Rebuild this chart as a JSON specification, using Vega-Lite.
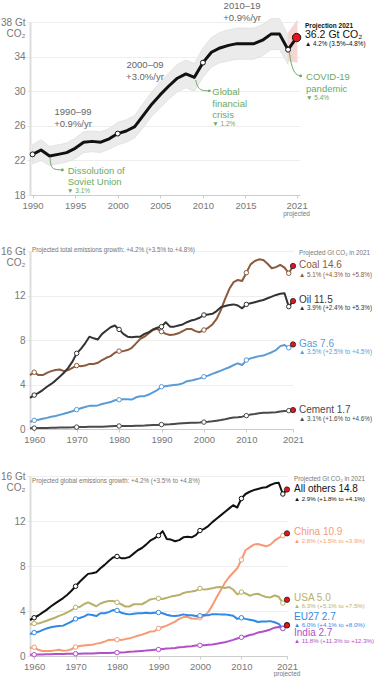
{
"$schema":"https://vega.github.io/schema/vega-lite/v6.json",
"padding":{"left":0,"top":0,"right":0,"bottom":0},
"config":{"font":"Liberation Sans","view":{"stroke":null},
"axis":{"labelColor":"#777777","labelFont":"Liberation Sans","gridColor":"#eeeeee","tickColor":"#dddddd","domainColor":"#dddddd","labelOverlap":false,"labelFlush":false},
"axisX":{"labelFontSize":9.5,"tickSize":3,"labelPadding":2,"grid":false,"domainColor":"#cccccc","tickColor":"#cccccc"},
"axisY":{"labelFontSize":10,"tickSize":3,"labelPadding":2,"domainWidth":2,"grid":true,"tickColor":"#e6e6e6"}},
"datasets":{
"global":[
{"year":1990,"v":22.7,"lo":21.6,"hi":23.8},{"year":1991,"v":23.2,"lo":22.0,"hi":24.4},{"year":1992,"v":22.5,"lo":21.4,"hi":23.6},{"year":1993,"v":22.7,"lo":21.6,"hi":23.8},{"year":1994,"v":22.9,"lo":21.8,"hi":24.0},{"year":1995,"v":23.4,"lo":22.2,"hi":24.6},{"year":1996,"v":24.1,"lo":22.9,"hi":25.3},{"year":1997,"v":24.2,"lo":23.0,"hi":25.4},{"year":1998,"v":24.1,"lo":22.9,"hi":25.3},{"year":1999,"v":24.5,"lo":23.3,"hi":25.7},{"year":2000,"v":25.1,"lo":23.8,"hi":26.4},{"year":2001,"v":25.4,"lo":24.1,"hi":26.7},{"year":2002,"v":25.9,"lo":24.6,"hi":27.2},{"year":2003,"v":27.2,"lo":25.8,"hi":28.6},{"year":2004,"v":28.5,"lo":27.1,"hi":29.9},{"year":2005,"v":29.6,"lo":28.1,"hi":31.1},{"year":2006,"v":30.6,"lo":29.1,"hi":32.1},{"year":2007,"v":31.5,"lo":29.9,"hi":33.1},{"year":2008,"v":32.0,"lo":30.4,"hi":33.6},{"year":2009,"v":31.6,"lo":30.0,"hi":33.2},{"year":2010,"v":33.3,"lo":31.6,"hi":35.0},{"year":2011,"v":34.5,"lo":32.8,"hi":36.2},{"year":2012,"v":35.0,"lo":33.3,"hi":36.8},{"year":2013,"v":35.3,"lo":33.5,"hi":37.1},{"year":2014,"v":35.5,"lo":33.7,"hi":37.3},{"year":2015,"v":35.5,"lo":33.7,"hi":37.3},{"year":2016,"v":35.5,"lo":33.7,"hi":37.3},{"year":2017,"v":35.9,"lo":34.1,"hi":37.7},{"year":2018,"v":36.6,"lo":34.8,"hi":38.4},{"year":2019,"v":36.6,"lo":34.8,"hi":38.4},{"year":2020,"v":34.8,"lo":33.1,"hi":36.5},{"year":2021,"v":36.2}],
"fuel":[
{"year":1959,"Coal":4.85,"Oil":2.8,"Gas":0.65,"Cement":0.07},{"year":1960,"Coal":5.1,"Oil":3.05,"Gas":0.78,"Cement":0.08},{"year":1961,"Coal":4.85,"Oil":3.25,"Gas":0.84,"Cement":0.08},{"year":1962,"Coal":4.85,"Oil":3.5,"Gas":0.92,"Cement":0.09},{"year":1963,"Coal":5.05,"Oil":3.8,"Gas":1.0,"Cement":0.1},{"year":1964,"Coal":5.2,"Oil":4.05,"Gas":1.1,"Cement":0.11},{"year":1965,"Coal":5.3,"Oil":4.35,"Gas":1.17,"Cement":0.12},{"year":1966,"Coal":5.35,"Oil":4.7,"Gas":1.27,"Cement":0.13},{"year":1967,"Coal":5.2,"Oil":5.05,"Gas":1.37,"Cement":0.13},{"year":1968,"Coal":5.3,"Oil":5.5,"Gas":1.48,"Cement":0.14},{"year":1969,"Coal":5.5,"Oil":6.05,"Gas":1.6,"Cement":0.15},
{"year":1970,"Coal":5.7,"Oil":6.8,"Gas":1.74,"Cement":0.17},{"year":1971,"Coal":5.65,"Oil":7.2,"Gas":1.87,"Cement":0.18},{"year":1972,"Coal":5.7,"Oil":7.7,"Gas":1.98,"Cement":0.19},{"year":1973,"Coal":5.85,"Oil":8.3,"Gas":2.08,"Cement":0.2},{"year":1974,"Coal":5.85,"Oil":8.15,"Gas":2.1,"Cement":0.2},{"year":1975,"Coal":5.95,"Oil":8.05,"Gas":2.12,"Cement":0.2},{"year":1976,"Coal":6.2,"Oil":8.55,"Gas":2.25,"Cement":0.21},{"year":1977,"Coal":6.4,"Oil":8.85,"Gas":2.33,"Cement":0.23},{"year":1978,"Coal":6.55,"Oil":9.15,"Gas":2.42,"Cement":0.25},{"year":1979,"Coal":6.85,"Oil":9.3,"Gas":2.58,"Cement":0.26},
{"year":1980,"Coal":7.0,"Oil":8.95,"Gas":2.63,"Cement":0.27},{"year":1981,"Coal":7.0,"Oil":8.55,"Gas":2.67,"Cement":0.27},{"year":1982,"Coal":7.1,"Oil":8.3,"Gas":2.67,"Cement":0.27},{"year":1983,"Coal":7.3,"Oil":8.25,"Gas":2.65,"Cement":0.28},{"year":1984,"Coal":7.7,"Oil":8.3,"Gas":2.85,"Cement":0.29},{"year":1985,"Coal":8.1,"Oil":8.3,"Gas":2.95,"Cement":0.3},{"year":1986,"Coal":8.3,"Oil":8.55,"Gas":2.95,"Cement":0.31},{"year":1987,"Coal":8.6,"Oil":8.7,"Gas":3.1,"Cement":0.33},{"year":1988,"Coal":8.9,"Oil":8.95,"Gas":3.3,"Cement":0.35},{"year":1989,"Coal":9.0,"Oil":9.1,"Gas":3.5,"Cement":0.36},
{"year":1990,"Coal":8.75,"Oil":9.2,"Gas":3.8,"Cement":0.4},{"year":1991,"Coal":8.55,"Oil":9.6,"Gas":3.85,"Cement":0.41},{"year":1992,"Coal":8.45,"Oil":9.2,"Gas":3.9,"Cement":0.43},{"year":1993,"Coal":8.5,"Oil":9.2,"Gas":3.95,"Cement":0.46},{"year":1994,"Coal":8.6,"Oil":9.3,"Gas":4.0,"Cement":0.49},{"year":1995,"Coal":8.8,"Oil":9.4,"Gas":4.1,"Cement":0.52},{"year":1996,"Coal":9.0,"Oil":9.6,"Gas":4.3,"Cement":0.54},{"year":1997,"Coal":9.0,"Oil":9.75,"Gas":4.35,"Cement":0.56},{"year":1998,"Coal":8.8,"Oil":9.85,"Gas":4.45,"Cement":0.57},{"year":1999,"Coal":8.7,"Oil":10.0,"Gas":4.55,"Cement":0.59},
{"year":2000,"Coal":8.9,"Oil":10.25,"Gas":4.7,"Cement":0.62},{"year":2001,"Coal":9.1,"Oil":10.3,"Gas":4.8,"Cement":0.65},{"year":2002,"Coal":9.4,"Oil":10.35,"Gas":4.95,"Cement":0.69},{"year":2003,"Coal":9.9,"Oil":10.6,"Gas":5.1,"Cement":0.75},{"year":2004,"Coal":10.7,"Oil":10.95,"Gas":5.25,"Cement":0.81},{"year":2005,"Coal":11.7,"Oil":11.05,"Gas":5.4,"Cement":0.88},{"year":2006,"Coal":12.6,"Oil":11.15,"Gas":5.55,"Cement":0.96},{"year":2007,"Coal":13.2,"Oil":11.2,"Gas":5.75,"Cement":1.03},{"year":2008,"Coal":13.4,"Oil":11.1,"Gas":5.9,"Cement":1.06},{"year":2009,"Coal":13.3,"Oil":10.85,"Gas":5.75,"Cement":1.11},
{"year":2010,"Coal":14.05,"Oil":11.2,"Gas":6.2,"Cement":1.2},{"year":2011,"Coal":14.8,"Oil":11.3,"Gas":6.35,"Cement":1.3},{"year":2012,"Coal":15.1,"Oil":11.4,"Gas":6.45,"Cement":1.35},{"year":2013,"Coal":15.25,"Oil":11.5,"Gas":6.55,"Cement":1.42},{"year":2014,"Coal":15.2,"Oil":11.6,"Gas":6.6,"Cement":1.46},{"year":2015,"Coal":14.85,"Oil":11.75,"Gas":6.75,"Cement":1.46},{"year":2016,"Coal":14.45,"Oil":11.9,"Gas":6.9,"Cement":1.49},{"year":2017,"Coal":14.55,"Oil":12.05,"Gas":7.1,"Cement":1.5},{"year":2018,"Coal":14.75,"Oil":12.15,"Gas":7.45,"Cement":1.57},{"year":2019,"Coal":14.5,"Oil":12.2,"Gas":7.55,"Cement":1.62},{"year":2020,"Coal":14.0,"Oil":11.0,"Gas":7.3,"Cement":1.65},{"year":2021,"Coal":14.65,"Oil":11.5,"Gas":7.6,"Cement":1.7}],
"country":[
{"year":1959,"Others":3.2,"China":0.7,"USA":2.8,"EU27":1.95,"India":0.11},{"year":1960,"Others":3.4,"China":0.78,"USA":2.89,"EU27":2.08,"India":0.12},{"year":1961,"Others":3.6,"China":0.55,"USA":2.88,"EU27":2.15,"India":0.13},{"year":1962,"Others":3.85,"China":0.45,"USA":3.0,"EU27":2.3,"India":0.14},{"year":1963,"Others":4.1,"China":0.44,"USA":3.13,"EU27":2.45,"India":0.15},{"year":1964,"Others":4.4,"China":0.45,"USA":3.27,"EU27":2.55,"India":0.15},{"year":1965,"Others":4.65,"China":0.5,"USA":3.4,"EU27":2.62,"India":0.17},{"year":1966,"Others":4.9,"China":0.55,"USA":3.57,"EU27":2.66,"India":0.17},{"year":1967,"Others":5.15,"China":0.47,"USA":3.7,"EU27":2.7,"India":0.18},{"year":1968,"Others":5.45,"China":0.5,"USA":3.87,"EU27":2.87,"India":0.19},{"year":1969,"Others":5.8,"China":0.6,"USA":4.07,"EU27":3.05,"India":0.19},
{"year":1970,"Others":6.2,"China":0.8,"USA":4.33,"EU27":3.3,"India":0.2},{"year":1971,"Others":6.6,"China":0.88,"USA":4.36,"EU27":3.38,"India":0.21},{"year":1972,"Others":6.95,"China":0.93,"USA":4.6,"EU27":3.5,"India":0.22},{"year":1973,"Others":7.3,"China":0.97,"USA":4.77,"EU27":3.7,"India":0.22},{"year":1974,"Others":7.35,"China":0.99,"USA":4.6,"EU27":3.65,"India":0.23},{"year":1975,"Others":7.45,"China":1.1,"USA":4.42,"EU27":3.55,"India":0.25},{"year":1976,"Others":7.8,"China":1.15,"USA":4.67,"EU27":3.8,"India":0.26},{"year":1977,"Others":8.1,"China":1.28,"USA":4.8,"EU27":3.8,"India":0.27},{"year":1978,"Others":8.45,"China":1.43,"USA":4.88,"EU27":3.9,"India":0.27},{"year":1979,"Others":8.75,"China":1.45,"USA":4.9,"EU27":4.08,"India":0.29},
{"year":1980,"Others":8.85,"China":1.45,"USA":4.77,"EU27":4.05,"India":0.3},{"year":1981,"Others":8.7,"China":1.43,"USA":4.6,"EU27":3.85,"India":0.32},{"year":1982,"Others":8.7,"China":1.5,"USA":4.4,"EU27":3.75,"India":0.34},{"year":1983,"Others":8.8,"China":1.57,"USA":4.4,"EU27":3.7,"India":0.37},{"year":1984,"Others":9.1,"China":1.68,"USA":4.6,"EU27":3.75,"India":0.39},{"year":1985,"Others":9.4,"China":1.8,"USA":4.6,"EU27":3.8,"India":0.42},{"year":1986,"Others":9.6,"China":1.9,"USA":4.6,"EU27":3.8,"India":0.45},{"year":1987,"Others":9.9,"China":2.02,"USA":4.8,"EU27":3.85,"India":0.48},{"year":1988,"Others":10.25,"China":2.17,"USA":5.03,"EU27":3.8,"India":0.52},{"year":1989,"Others":10.45,"China":2.2,"USA":5.1,"EU27":3.85,"India":0.56},
{"year":1990,"Others":10.7,"China":2.45,"USA":5.12,"EU27":3.87,"India":0.58},{"year":1991,"Others":11.1,"China":2.58,"USA":5.07,"EU27":3.8,"India":0.62},{"year":1992,"Others":10.4,"China":2.7,"USA":5.17,"EU27":3.67,"India":0.66},{"year":1993,"Others":10.35,"China":2.88,"USA":5.28,"EU27":3.58,"India":0.68},{"year":1994,"Others":10.2,"China":3.06,"USA":5.36,"EU27":3.56,"India":0.72},{"year":1995,"Others":10.3,"China":3.3,"USA":5.42,"EU27":3.6,"India":0.78},{"year":1996,"Others":10.55,"China":3.46,"USA":5.6,"EU27":3.7,"India":0.8},{"year":1997,"Others":10.6,"China":3.47,"USA":5.68,"EU27":3.62,"India":0.84},{"year":1998,"Others":10.55,"China":3.33,"USA":5.73,"EU27":3.63,"India":0.86},{"year":1999,"Others":10.75,"China":3.32,"USA":5.8,"EU27":3.56,"India":0.93},
{"year":2000,"Others":11.15,"China":3.4,"USA":6.01,"EU27":3.58,"India":0.95},{"year":2001,"Others":11.3,"China":3.55,"USA":5.9,"EU27":3.65,"India":0.96},{"year":2002,"Others":11.55,"China":3.9,"USA":5.95,"EU27":3.63,"India":0.99},{"year":2003,"Others":11.9,"China":4.5,"USA":6.02,"EU27":3.72,"India":1.02},{"year":2004,"Others":12.2,"China":5.2,"USA":6.11,"EU27":3.72,"India":1.08},{"year":2005,"Others":12.5,"China":5.85,"USA":6.13,"EU27":3.7,"India":1.15},{"year":2006,"Others":12.8,"China":6.5,"USA":6.05,"EU27":3.7,"India":1.22},{"year":2007,"Others":13.1,"China":7.0,"USA":6.13,"EU27":3.65,"India":1.32},{"year":2008,"Others":13.4,"China":7.4,"USA":5.91,"EU27":3.58,"India":1.43},{"year":2009,"Others":13.2,"China":7.8,"USA":5.48,"EU27":3.3,"India":1.56},
{"year":2010,"Others":14.0,"China":8.55,"USA":5.68,"EU27":3.4,"India":1.66},{"year":2011,"Others":14.4,"China":9.4,"USA":5.56,"EU27":3.3,"India":1.74},{"year":2012,"Others":14.6,"China":9.65,"USA":5.36,"EU27":3.23,"India":1.86},{"year":2013,"Others":14.75,"China":9.9,"USA":5.48,"EU27":3.15,"India":1.94},{"year":2014,"Others":14.85,"China":9.95,"USA":5.53,"EU27":3.02,"India":2.08},{"year":2015,"Others":14.95,"China":9.85,"USA":5.37,"EU27":3.06,"India":2.16},{"year":2016,"Others":15.0,"China":9.75,"USA":5.25,"EU27":3.07,"India":2.25},{"year":2017,"Others":15.2,"China":9.9,"USA":5.21,"EU27":3.1,"India":2.36},{"year":2018,"Others":15.35,"China":10.25,"USA":5.38,"EU27":3.0,"India":2.52},{"year":2019,"Others":15.4,"China":10.5,"USA":5.26,"EU27":2.85,"India":2.58},{"year":2020,"Others":14.4,"China":10.7,"USA":4.71,"EU27":2.46,"India":2.44},{"year":2021,"Others":14.8,"China":10.9,"USA":5.0,"EU27":2.75,"India":2.72}]
},
"spacing":56,
"bounds":"flush",
"resolve":{"scale":{"color":"independent","stroke":"independent"}},
"vconcat":[
{
"width":270,"height":173,
"layer":[
{"data":{"name":"global"},"mark":{"type":"area","fill":"#ebebeb","stroke":"#dddddd","strokeWidth":0.7},
"encoding":{
"x":{"field":"year","type":"quantitative","scale":{"domain":[1989.7,2021.4],"nice":false,"zero":false},"axis":{"values":[1990,1995,2000,2005,2010,2015,2021],"tickCount":12,"format":"d","title":null,"labelOverlap":false}},
"y":{"field":"lo","type":"quantitative","scale":{"domain":[18,38],"nice":false,"zero":false},"axis":{"values":[18,22,26,30,34,38],"tickCount":12,"title":null,"labelOverlap":false,"labelExpr":"datum.value == 38 ? ['38 Gt', 'CO₂'] : datum.label","labelLineHeight":11}},
"y2":{"field":"hi"}}},
{"data":{"values":[{"year":2020,"lo":33.5,"hi":36.8},{"year":2021.1,"lo":33.3,"hi":38.3}]},"mark":{"type":"area","fill":"#f5cfcb","opacity":0.85},
"encoding":{"x":{"field":"year","type":"quantitative"},"y":{"field":"lo","type":"quantitative"},"y2":{"field":"hi"}}},
{"data":{"name":"global"},"mark":{"type":"line","color":"#111111","strokeWidth":3,"strokeJoin":"round"},
"encoding":{"x":{"field":"year","type":"quantitative"},"y":{"field":"v","type":"quantitative"}}},
{"data":{"values":[{"g":"a","o":0,"x":1992.05,"y":22.3},{"g":"a","o":1,"x":1992.15,"y":21.3},{"g":"a","o":2,"x":1992.5,"y":20.95},{"g":"a","o":3,"x":1993.5,"y":20.89},
{"g":"b","o":0,"x":2009.15,"y":31.3},{"g":"b","o":1,"x":2009.4,"y":30.35},{"g":"b","o":2,"x":2010.0,"y":30.04},{"g":"b","o":3,"x":2010.75,"y":30.04},
{"g":"c","o":0,"x":2020.15,"y":34.5},{"g":"c","o":1,"x":2020.43,"y":32.73},{"g":"c","o":2,"x":2020.93,"y":31.88},{"g":"c","o":3,"x":2021.48,"y":31.77}]},
"layer":[
{"mark":{"type":"line","color":"#6aaa64","strokeWidth":1,"interpolate":"basis"},"encoding":{"x":{"field":"x","type":"quantitative"},"y":{"field":"y","type":"quantitative"},"detail":{"field":"g"},"order":{"field":"o"}}},
{"transform":[{"filter":"datum.o == 3"}],"mark":{"type":"circle","color":"#6aaa64","size":8,"opacity":1},"encoding":{"x":{"field":"x","type":"quantitative"},"y":{"field":"y","type":"quantitative"}}}]},
{"data":{"name":"global"},"transform":[{"filter":"datum.year % 10 == 0"}],"mark":{"type":"circle","size":24,"fill":"white","stroke":"#111111","strokeWidth":1,"opacity":1},
"encoding":{"x":{"field":"year","type":"quantitative"},"y":{"field":"v","type":"quantitative"}}},
{"data":{"name":"global"},"transform":[{"filter":"datum.year == 2021"}],"mark":{"type":"circle","size":70,"fill":"#e8141b","stroke":"#111111","strokeWidth":1,"opacity":1},
"encoding":{"x":{"field":"year","type":"quantitative"},"y":{"field":"v","type":"quantitative"}}},
{"data":{"values":[{"x":1994.75,"y":27.61,"t":"1990–99\n+0.9%/yr"},{"x":2003.2,"y":33.04,"t":"2000–09\n+3.0%/yr"},{"x":2014.6,"y":39.9,"t":"2010–19\n+0.9%/yr"}]},
"mark":{"type":"text","align":"center","baseline":"middle","fontSize":9.5,"color":"#666666","lineBreak":"\n","lineHeight":12.5},
"encoding":{"x":{"field":"x","type":"quantitative"},"y":{"field":"y","type":"quantitative"},"text":{"field":"t"}}},
{"data":{"values":[{"x":1994.13,"y":20.8,"t":"Dissolution of\nSoviet Union"},{"x":2011.1,"y":29.92,"t":"Global\nfinancial\ncrisis"},{"x":2022.11,"y":31.65,"t":"COVID-19\npandemic"}]},
"mark":{"type":"text","align":"left","baseline":"middle","fontSize":9.5,"color":"#6aaa64","lineBreak":"\n","lineHeight":11.7},
"encoding":{"x":{"field":"x","type":"quantitative"},"y":{"field":"y","type":"quantitative"},"text":{"field":"t"}}},
{"data":{"values":[{"x":1994.05,"y":18.44,"t":"▼ 3.1%"},{"x":2011.1,"y":26.26,"t":"▼ 1.2%"},{"x":2022.11,"y":29.26,"t":"▼ 5.4%"}]},
"mark":{"type":"text","align":"left","baseline":"middle","fontSize":6.5,"color":"#6aaa64"},
"encoding":{"x":{"field":"x","type":"quantitative"},"y":{"field":"y","type":"quantitative"},"text":{"field":"t"}}},
{"data":{"values":[{"x":2021.99,"y":37.54,"t":"Projection 2021"}]},
"mark":{"type":"text","align":"left","baseline":"middle","fontSize":6.5,"fontWeight":"bold","color":"#111111"},
"encoding":{"x":{"field":"x","type":"quantitative"},"y":{"field":"y","type":"quantitative"},"text":{"field":"t"}}},
{"data":{"values":[{"x":2021.99,"y":36.45,"t":"36.2 Gt CO₂"}]},
"mark":{"type":"text","align":"left","baseline":"middle","fontSize":10.5,"color":"#111111"},
"encoding":{"x":{"field":"x","type":"quantitative"},"y":{"field":"y","type":"quantitative"},"text":{"field":"t"}}},
{"data":{"values":[{"x":2021.99,"y":35.43,"t":"▲ 4.2% (3.5%–4.8%)"}]},
"mark":{"type":"text","align":"left","baseline":"middle","fontSize":6.3,"color":"#111111"},
"encoding":{"x":{"field":"x","type":"quantitative"},"y":{"field":"y","type":"quantitative"},"text":{"field":"t"}}},
{"data":{"values":[{"x":2021,"y":18,"t":"projected"}]},
"mark":{"type":"text","align":"center","baseline":"middle","fontSize":6.5,"color":"#777777","dy":19},
"encoding":{"x":{"field":"x","type":"quantitative"},"y":{"field":"y","type":"quantitative"},"text":{"field":"t"}}}
]
},
{
"spacing":47,
"bounds":"flush",
"resolve":{"scale":{"color":"independent","stroke":"independent"}},
"vconcat":[
{
"width":263,"height":178,
"layer":[
{"data":{"name":"fuel"},"transform":[{"fold":["Coal","Oil","Gas","Cement"],"as":["s","v"]}],
"mark":{"type":"line","strokeWidth":2,"strokeJoin":"round"},
"encoding":{
"x":{"field":"year","type":"quantitative","scale":{"domain":[1959,2021],"nice":false,"zero":false},"axis":{"values":[1960,1970,1980,1990,2000,2010,2021],"tickCount":12,"format":"d","title":null,"labelOverlap":false}},
"y":{"field":"v","type":"quantitative","scale":{"domain":[0,16],"nice":false},"axis":{"values":[0,4,8,12,16],"tickCount":12,"title":null,"labelOverlap":false,"labelExpr":"datum.value == 16 ? ['16 Gt', 'CO₂'] : datum.label","labelLineHeight":11}},
"color":{"field":"s","type":"nominal","scale":{"domain":["Coal","Oil","Gas","Cement"],"range":["#8b5a3c","#333333","#5b9bd5","#4a4a4a"]},"legend":null}}},
{"data":{"name":"fuel"},"transform":[{"fold":["Coal","Oil","Gas","Cement"],"as":["s","v"]},{"filter":"datum.year % 10 == 0"}],
"mark":{"type":"circle","size":20,"fill":"white","strokeWidth":1,"opacity":1},
"encoding":{"x":{"field":"year","type":"quantitative"},"y":{"field":"v","type":"quantitative"},
"stroke":{"field":"s","type":"nominal","scale":{"domain":["Coal","Oil","Gas","Cement"],"range":["#8b5a3c","#333333","#5b9bd5","#4a4a4a"]},"legend":null}}},
{"data":{"name":"fuel"},"transform":[{"fold":["Coal","Oil","Gas","Cement"],"as":["s","v"]},{"filter":"datum.year == 2021"}],
"mark":{"type":"circle","size":28,"fill":"#e8141b","stroke":"#222222","strokeWidth":0.8,"opacity":1},
"encoding":{"x":{"field":"year","type":"quantitative"},"y":{"field":"v","type":"quantitative"}}},
{"data":{"values":[{"s":"Coal","x":2022.41,"y":14.77,"t":"Coal 14.6"},{"s":"Oil","x":2022.41,"y":11.56,"t":"Oil 11.5"},{"s":"Gas","x":2022.41,"y":7.66,"t":"Gas 7.6"},{"s":"Cement","x":2022.41,"y":1.74,"t":"Cement 1.7"}]},
"mark":{"type":"text","align":"left","baseline":"middle","fontSize":10},
"encoding":{"x":{"field":"x","type":"quantitative"},"y":{"field":"y","type":"quantitative"},"text":{"field":"t"},"color":{"field":"s","type":"nominal","legend":null}}},
{"data":{"values":[{"s":"Coal","x":2022.41,"y":13.87,"t":"▲ 5.1% (+4.3% to +5.8%)"},{"s":"Oil","x":2022.41,"y":10.86,"t":"▲ 3.9% (+2.4% to +5.3%)"},{"s":"Gas","x":2022.41,"y":6.9,"t":"▲ 3.5% (+2.5% to +4.5%)"},{"s":"Cement","x":2022.41,"y":0.9,"t":"▲ 3.1% (+1.6% to +4.6%)"}]},
"mark":{"type":"text","align":"left","baseline":"middle","fontSize":6.3},
"encoding":{"x":{"field":"x","type":"quantitative"},"y":{"field":"y","type":"quantitative"},"text":{"field":"t"},"color":{"field":"s","type":"nominal","legend":null}}},
{"data":{"values":[{"x":1959.47,"y":16.06,"t":"Projected total emissions growth: +4.2% (+3.5% to +4.8%)"},{"x":2022.41,"y":15.82,"t":"Projected Gt CO₂ in 2021"}]},
"mark":{"type":"text","align":"left","baseline":"middle","fontSize":6.3,"color":"#777777"},
"encoding":{"x":{"field":"x","type":"quantitative"},"y":{"field":"y","type":"quantitative"},"text":{"field":"t"}}}
]
},
{
"width":257,"height":180,
"layer":[
{"data":{"name":"country"},"transform":[{"fold":["Others","China","USA","EU27","India"],"as":["s","v"]}],
"mark":{"type":"line","strokeWidth":2,"strokeJoin":"round"},
"encoding":{
"x":{"field":"year","type":"quantitative","scale":{"domain":[1959,2021],"nice":false,"zero":false},"axis":{"values":[1960,1970,1980,1990,2000,2010,2021],"tickCount":12,"format":"d","title":null,"labelOverlap":false}},
"y":{"field":"v","type":"quantitative","scale":{"domain":[0,16],"nice":false},"axis":{"values":[0,4,8,12,16],"tickCount":12,"title":null,"labelOverlap":false,"labelExpr":"datum.value == 16 ? ['16 Gt', 'CO₂'] : datum.label","labelLineHeight":11}},
"color":{"field":"s","type":"nominal","scale":{"domain":["Others","China","USA","EU27","India"],"range":["#111111","#f79a74","#b8b06c","#2e8ae6","#b150c8"]},"legend":null}}},
{"data":{"name":"country"},"transform":[{"fold":["Others","China","USA","EU27","India"],"as":["s","v"]},{"filter":"datum.year % 10 == 0"}],
"mark":{"type":"circle","size":20,"fill":"white","strokeWidth":1,"opacity":1},
"encoding":{"x":{"field":"year","type":"quantitative"},"y":{"field":"v","type":"quantitative"},
"stroke":{"field":"s","type":"nominal","scale":{"domain":["Others","China","USA","EU27","India"],"range":["#111111","#f79a74","#b8b06c","#2e8ae6","#b150c8"]},"legend":null}}},
{"data":{"name":"country"},"transform":[{"fold":["Others","China","USA","EU27","India"],"as":["s","v"]},{"filter":"datum.year == 2021"}],
"mark":{"type":"circle","size":28,"fill":"#e8141b","stroke":"#222222","strokeWidth":0.8,"opacity":1},
"encoding":{"x":{"field":"year","type":"quantitative"},"y":{"field":"v","type":"quantitative"}}},
{"data":{"values":[{"s":"Others","x":2022.69,"y":14.82,"t":"All others 14.8"},{"s":"China","x":2022.69,"y":10.98,"t":"China 10.9"},{"s":"USA","x":2022.69,"y":5.17,"t":"USA 5.0"},{"s":"EU27","x":2022.69,"y":3.49,"t":"EU27 2.7"},{"s":"India","x":2022.69,"y":2.07,"t":"India 2.7"}]},
"mark":{"type":"text","align":"left","baseline":"middle","fontSize":10},
"encoding":{"x":{"field":"x","type":"quantitative"},"y":{"field":"y","type":"quantitative"},"text":{"field":"t"},"color":{"field":"s","type":"nominal","legend":null}}},
{"data":{"values":[{"s":"Others","x":2022.69,"y":13.99,"t":"▲ 2.9% (+1.8% to +4.1%)"},{"s":"China","x":2022.69,"y":10.2,"t":"▲ 2.8% (+1.5% to +3.9%)"},{"s":"USA","x":2022.69,"y":4.46,"t":"▲ 6.3% (+5.1% to +7.5%)"},{"s":"EU27","x":2022.69,"y":2.75,"t":"▲ 6.0% (+4.1% to +8.0%)"},{"s":"India","x":2022.69,"y":1.33,"t":"▲ 11.8% (+11.3% to +12.3%)"}]},
"mark":{"type":"text","align":"left","baseline":"middle","fontSize":6.1},
"encoding":{"x":{"field":"x","type":"quantitative"},"y":{"field":"y","type":"quantitative"},"text":{"field":"t"},"color":{"field":"s","type":"nominal","legend":null}}},
{"data":{"values":[{"x":1959.48,"y":15.53,"t":"Projected global emissions growth: +4.2% (+3.5% to +4.8%)"},{"x":2022.69,"y":15.77,"t":"Projected Gt CO₂ in 2021"}]},
"mark":{"type":"text","align":"left","baseline":"middle","fontSize":6.3,"color":"#777777"},
"encoding":{"x":{"field":"x","type":"quantitative"},"y":{"field":"y","type":"quantitative"},"text":{"field":"t"}}},
{"data":{"values":[{"x":2021,"y":0,"t":"projected"}]},
"mark":{"type":"text","align":"center","baseline":"middle","fontSize":6.5,"color":"#777777","dy":18},
"encoding":{"x":{"field":"x","type":"quantitative"},"y":{"field":"y","type":"quantitative"},"text":{"field":"t"}}}
]
}
]
}
]
}
